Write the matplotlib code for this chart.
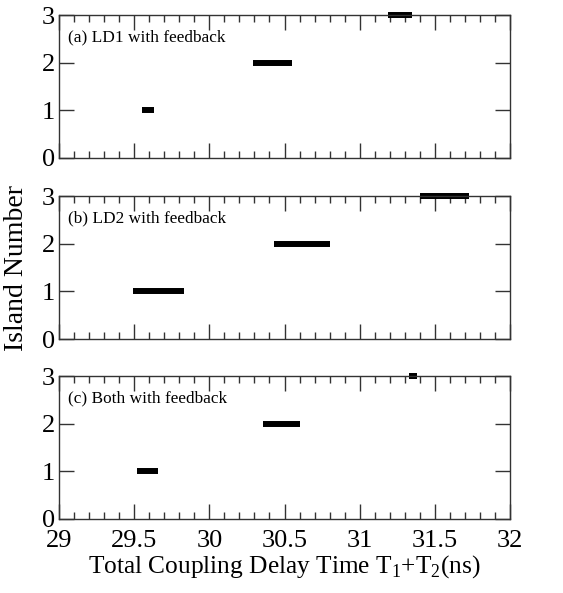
"""Island number vs total coupling delay time, three feedback cases"""

import matplotlib.pyplot as plt

plt.rcParams['font.family'] = ['Liberation Serif', 'DejaVu Serif']
plt.rcParams['mathtext.fontset'] = 'custom'
plt.rcParams['mathtext.rm'] = 'Liberation Serif'

# Each panel: island number with the delay range (ns) where it occurs
islands = [1, 2, 3]
labels = ['(a) LD1 with feedback', '(b) LD2 with feedback',
          '(c) Both with feedback']
starts_a = [29.55, 30.29, 31.19]
ends_a = [29.63, 30.55, 31.35]
starts_b = [29.49, 30.43, 31.40]
ends_b = [29.83, 30.80, 31.73]
starts_c = [29.52, 30.36, 31.33]
ends_c = [29.66, 30.60, 31.38]

xticks = [29, 29.5, 30, 30.5, 31, 31.5, 32]
xticklabels = ['29', '29.5', '30', '30.5', '31', '31.5', '32']
yticks = [0, 1, 2, 3]

fig = plt.figure(figsize=(5.63, 5.93), dpi=100)
bottoms = [0.7336, 0.4283, 0.1248]
panels = [(starts_a, ends_a), (starts_b, ends_b), (starts_c, ends_c)]

for i, (bot, (st, en)) in enumerate(zip(bottoms, panels)):
    ax = fig.add_axes([0.1048, bot, 0.8011, 0.2411])
    for lev, x0, x1 in zip(islands, st, en):
        ax.plot([x0, x1], [lev, lev], color='k', linewidth=4.3,
                solid_capstyle='butt', clip_on=False)
    ax.set_xlim(29, 32)
    ax.set_ylim(0, 3)
    ax.set_xticks(xticks)
    ax.set_xticks([29 + 0.1*k for k in range(31)], minor=True)
    ax.set_yticks(yticks)
    ax.tick_params(which='both', direction='in', top=True, right=True,
                   color='#333333', width=1.0, labelsize=19)
    ax.tick_params(which='major', length=11)
    ax.tick_params(which='minor', length=5)
    ax.tick_params(axis='y', which='minor', left=False, right=False)
    ax.tick_params(axis='y', pad=3)
    ax.tick_params(axis='x', pad=8)  # x labels sit a little lower
    if i < 2:
        ax.set_xticklabels([])
    else:
        ax.set_xticklabels(xticklabels)
        ax.set_xlabel(r'Total Coupling Delay Time T$_\mathregular{1}$+T$_\mathregular{2}$(ns)',
                      fontsize=18.3, labelpad=1)
    for s in ax.spines.values():
        s.set_color('#333333')
        s.set_linewidth(1.0)
    ax.text(0.02, 0.846, labels[i], transform=ax.transAxes,
            fontsize=12.4, va='center', ha='left')

fig.text(0.03, 0.548, 'Island Number', rotation=90, fontsize=20,
         va='center', ha='center')

fig.savefig('out.png', dpi=100)
